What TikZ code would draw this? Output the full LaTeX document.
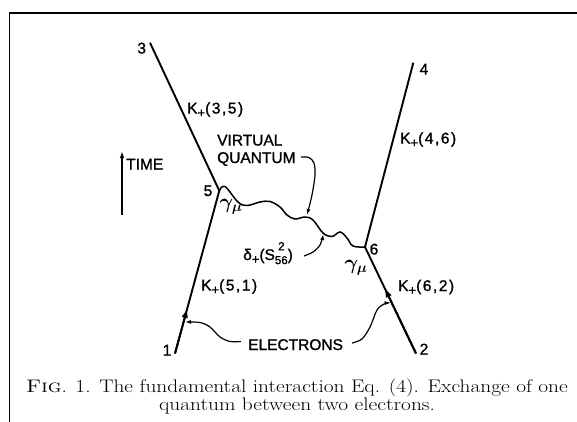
\documentclass[tikz,border=0pt]{standalone}
\usepackage{fontspec}
\usepackage{graphicx}
\newfontface\lab{Liberation Sans}[FakeBold=1.2]
\newfontface\klab{Liberation Sans}[FakeBold=1.2,LetterSpace=10]
\usetikzlibrary{arrows.meta,calc}
\newcommand\Kp{K\raisebox{-0.45ex}{\fontsize{13}{13}\selectfont+}}
\newcommand\smf{\fontsize{11.5}{11.5}\selectfont}
\newcommand\capw[1]{\scalebox{1.175}[1]{#1}}
\begin{document}
\begin{tikzpicture}[x=1pt,y=-1pt,
  lbl/.style={font=\lab\fontsize{15.5}{16}\selectfont, inner sep=0pt},
  klbl/.style={font=\klab\fontsize{15.5}{16}\selectfont, inner sep=0pt},
  eline/.style={line width=1.9pt},
  wave/.style={line width=1.5pt},
  ann/.style={line width=1.2pt,-{Latex[length=6pt,width=4pt]}},
  tipar/.style={line width=1.9pt,-{Latex[length=10pt,width=6.5pt]}},
  gam/.style={font=\boldmath\fontsize{21}{21}\selectfont, inner sep=0pt},
  captxt/.style={font=\fontsize{18.2}{20}\selectfont, inner sep=0pt}]
\useasboundingbox (0,0) rectangle (577,421);
\clip (0,0) rectangle (577,421);
\fill[white] (0,0) rectangle (577,421);
% frame
\draw[line width=1.7pt] (9.5,440) -- (9.5,12.7) -- (600,12.7);
% vertices and ends
\coordinate (e3) at (150,42.7);
\coordinate (v5) at (219.3,190.7);
\coordinate (e1) at (175,353.5);
\coordinate (e4) at (413.3,62.7);
\coordinate (v6) at (365,247);
\coordinate (e2) at (416,353.5);
% electron lines
\draw[eline] (e3) -- (v5) -- (e1);
\draw[eline] (e4) -- (v6) -- (e2);
\draw[tipar] (e1) -- ($(e1)!0.28!(v5)$);
\draw[tipar] (e2) -- ($(e2)!0.62!(v6)$);
% virtual quantum
\draw[wave] plot[smooth,tension=0.6] coordinates {(v5) (225,186.5) (238,202) (247,205.5) (260,202) (270,201.5) (280,207) (287,215) (295,219) (305,217) (313,220) (323,233) (332,236.5) (340,232) (347,238) (353,246) (v6)};
% time arrow
\coordinate (tb) at (122,215);
\coordinate (tt) at (122,151);
\draw[line width=1.6pt,-{Latex[length=7pt,width=4.5pt]}] (tb) -- (tt);
\node[lbl,anchor=base west] (time) at (126,169.5) {TIME};
% point labels
\node[lbl,anchor=base] (n3) at (141.7,53.5) {3};
\node[lbl,anchor=base] (n4) at (424,74.5) {4};
\node[lbl,anchor=base] (n5) at (208,196) {5};
\node[lbl,anchor=base] (n6) at (374,254.5) {6};
\node[lbl,anchor=base] (n1) at (167,355.5) {1};
\node[lbl,anchor=base] (n2) at (424,354.5) {2};
% propagators
\node[klbl,anchor=base west] (k35) at (187,113.5) {\Kp(3,5)};
\node[klbl,anchor=base west] (k46) at (400,143.5) {\Kp(4,6)};
\node[klbl,anchor=base west] (k51) at (201,290.5) {\Kp(5,1)};
\node[klbl,anchor=base west] (k62) at (398,291) {\Kp(6,2)};
\node[lbl,anchor=base west] (virt) at (217,145.5) {VIRTUAL};
\node[lbl,anchor=base west] (quant) at (217,163) {QUANTUM};
\node[lbl,anchor=base west] (elec) at (248,350) {ELECTRONS};
\node[lbl,anchor=base west] (delta) at (243,260) {δ\raisebox{-0.45ex}{\fontsize{13}{13}\selectfont+}(S\raisebox{-0.5ex}{\rlap{\raisebox{1.7ex}{\makebox[13pt]{\smf 2}}}\smf 56})};
\node[gam] (g5) at (231,207) {$\gamma_\mu$};
\node[gam] (g6) at (356,268) {$\gamma_\mu$};
% annotation arrows
\draw[ann] plot[smooth] coordinates {(301,157) (309,157.5) (314,163) (315,175) (312,195) (307,215)};
\draw[ann] plot[smooth] coordinates {(304,256) (313,252) (320,245) (323.5,234)};
\draw[ann] plot[smooth] coordinates {(241,341.5) (230,341.5) (220,337) (210,327) (200,322.5) (185,322)};
\draw[ann] plot[smooth] coordinates {(352,343) (362,339) (370,327) (377,310) (384,304) (390.5,303)};
% caption
\node[captxt,anchor=base] (cap1) at (297,392) {\capw{\textsc{Fig}. 1. The fundamental interaction Eq. (4). Exchange of one}};
\node[captxt,anchor=base] (cap2) at (297,410.5) {\capw{quantum between two electrons.}};
\end{tikzpicture}
\end{document}
